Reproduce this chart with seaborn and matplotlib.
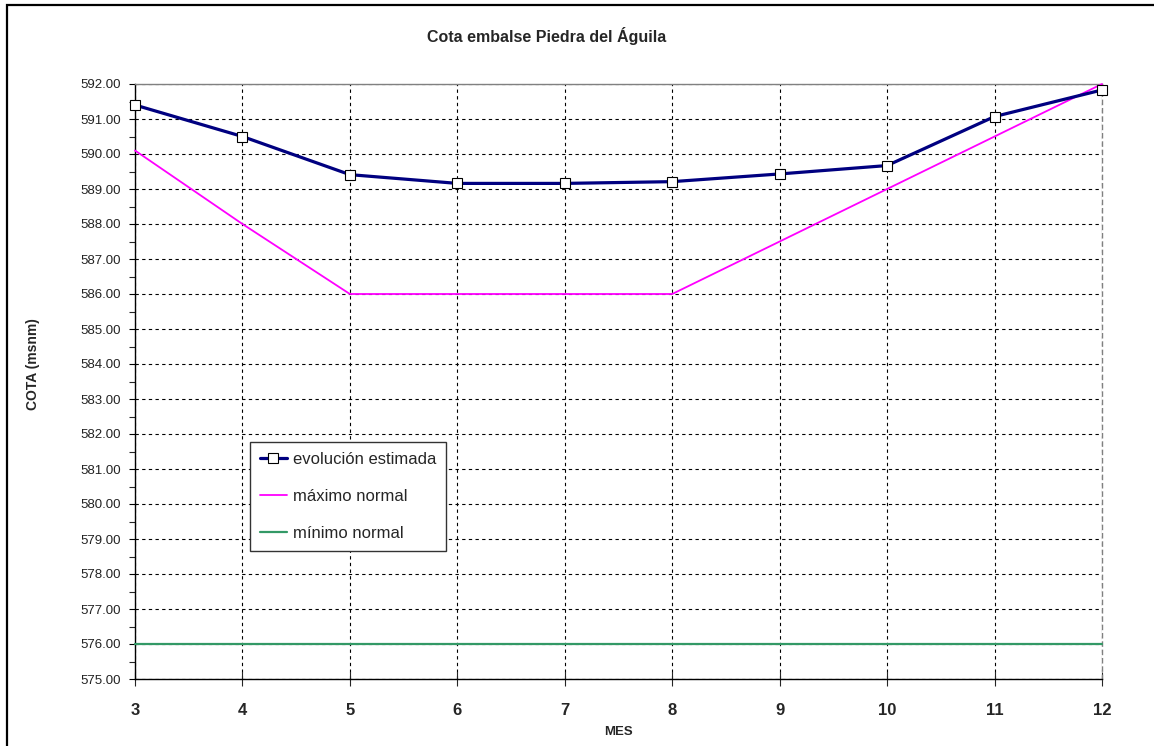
import numpy as np
import pandas as pd
import matplotlib.pyplot as plt
import matplotlib.patches as mpatches
import seaborn as sns
from matplotlib.ticker import MultipleLocator, FormatStrFormatter

# data
meses = [3, 4, 5, 6, 7, 8, 9, 10, 11, 12]
evolucion = [591.40, 590.50, 589.41, 589.16, 589.16, 589.21, 589.43, 589.67, 591.07, 591.83]
maximo = [590.10, 588.00, 586.00, 586.00, 586.00, 586.00, 587.50, 589.00, 590.50, 592.00]
minimo = [576.00] * 10

df = pd.DataFrame({'MES': meses, 'evolucion': evolucion,
                   'maximo': maximo, 'minimo': minimo})

sns.set_style('white')
plt.rcParams['font.family'] = ['Liberation Sans', 'DejaVu Sans']

W, H = 1154, 746
fig = plt.figure(figsize=(W / 100, H / 100), dpi=100)
# axes area in pixels: x 135..1102, y 84..679
ax = fig.add_axes([135 / W, 1 - 679 / H, (1102 - 135) / W, (679 - 84) / H])

sns.lineplot(data=df, x='MES', y='evolucion', ax=ax, color='#000080', linewidth=2.3,
             marker='s', markersize=7, markerfacecolor='white', markeredgecolor='black',
             markeredgewidth=0.8, label='evolución estimada', clip_on=False, zorder=5)
sns.lineplot(data=df, x='MES', y='maximo', ax=ax, color='#FF00FF', linewidth=1.3,
             label='máximo normal', clip_on=False, zorder=4)
sns.lineplot(data=df, x='MES', y='minimo', ax=ax, color='#339966', linewidth=1.6,
             label='mínimo normal', clip_on=False, zorder=4)

ax.set_xlim(3, 12)
ax.set_ylim(575, 592)
ax.xaxis.set_major_locator(MultipleLocator(1))
ax.yaxis.set_major_locator(MultipleLocator(1))
ax.yaxis.set_minor_locator(MultipleLocator(0.5))
ax.yaxis.set_major_formatter(FormatStrFormatter('%.2f'))

ax.grid(True, which='major', color='black', linestyle=(0, (3, 3)), linewidth=0.8)
ax.set_axisbelow(True)

ax.tick_params(axis='y', which='major', direction='out', length=4, width=0.8,
               labelsize=9.5, pad=6, left=True, colors='black', labelcolor='#222222')
ax.tick_params(axis='y', which='minor', direction='out', length=4, width=0.8, left=True)
ax.tick_params(axis='x', which='major', direction='inout', length=10, width=0.8,
               labelsize=12, pad=12, bottom=True)
for lbl in ax.get_xticklabels():
    lbl.set_fontweight('bold')

for side in ['left', 'bottom']:
    ax.spines[side].set_color('black')
    ax.spines[side].set_linewidth(1.0)
ax.spines['top'].set_color('#808080')
ax.spines['top'].set_linewidth(1.0)
ax.spines['right'].set_color('#808080')
ax.spines['right'].set_linewidth(1.0)
ax.spines['right'].set_linestyle((0, (3, 3)))

ax.set_xlabel('')
ax.set_ylabel('')

leg = ax.legend(loc='upper left', bbox_to_anchor=(0.119, 0.398), borderaxespad=0,
                fontsize=12, frameon=True, fancybox=False, edgecolor='#333333',
                framealpha=1, handlelength=1.6, handletextpad=0.35, labelspacing=1.3,
                borderpad=0.6)
leg.get_frame().set_linewidth(1.0)
leg.set_zorder(10)

fig.text(547 / W, 1 - 36 / H, 'Cota embalse Piedra del Águila', ha='center', va='center',
         fontsize=11.5, fontweight='bold')
fig.text(33 / W, 1 - 364 / H, 'COTA (msnm)', ha='center', va='center', rotation=90,
         fontsize=10, fontweight='bold')
fig.text(618 / W, 1 - 732 / H, 'MES', ha='center', va='center',
         fontsize=9.5, fontweight='bold')

# outer chart frame (runs off the right and bottom edges)
frame = mpatches.Rectangle((7 / W, -0.05), 1.1, 1 - 5 / H + 0.05, transform=fig.transFigure,
                           fill=False, edgecolor='black', linewidth=1.6)
fig.patches.append(frame)

fig.savefig('out.png', dpi=100)
